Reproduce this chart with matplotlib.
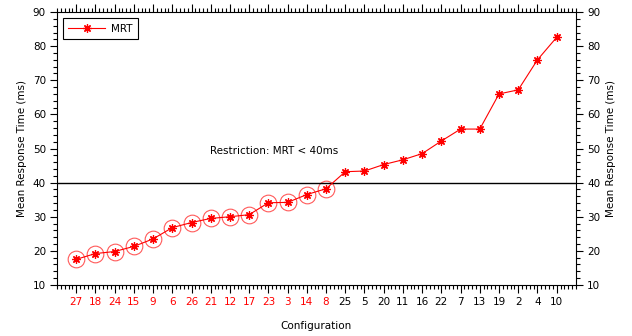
import matplotlib
matplotlib.use("Agg")
import matplotlib.pyplot as plt
from matplotlib.ticker import AutoMinorLocator, MultipleLocator

configs = ["27", "18", "24", "15", "9", "6", "26", "21", "12", "17", "23", "3", "14", "8",
           "25", "5", "20", "11", "16", "22", "7", "13", "19", "2", "4", "10"]
mrt = [17.5, 19.2, 19.8, 21.3, 23.5, 26.8, 28.3, 29.5, 30.0, 30.6, 34.1, 34.2, 36.5, 38.2,
       43.2, 43.4, 45.3, 46.7, 48.5, 52.2, 55.7, 55.7, 66.0, 67.2, 76.0, 82.6]
limit = 40
n_feasible = 14

plt.rcParams["font.family"] = "DejaVu Sans"
plt.rcParams["font.size"] = 7.5

fig = plt.figure(figsize=(6.32, 3.36), dpi=100)
ax = fig.add_axes([0.0902, 0.152, 0.821, 0.812])

x = list(range(1, len(configs) + 1))
ax.plot(x, mrt, color="red", lw=0.8, marker=(8, 2, 0), ms=6, mew=0.9, label="MRT", zorder=3)
ax.plot(x[:n_feasible], mrt[:n_feasible], ls="none", marker="o", ms=12, mfc="none",
        mec="#ff5a5a", mew=0.8, zorder=2)
ax.axhline(limit, color="black", lw=1)
ax.text(11.3, 49.2, "Restriction: MRT < 40ms", ha="center", va="center", fontsize=7.5)

ax.set_xlim(0, len(configs) + 1)
ax.set_ylim(10, 90)
ax.set_xticks(x)
ax.set_xticklabels(configs)
for i, lab in enumerate(ax.get_xticklabels()):
    lab.set_color("red" if i < n_feasible else "black")
ax.xaxis.set_minor_locator(AutoMinorLocator(5))
ax.yaxis.set_major_locator(MultipleLocator(10))
ax.yaxis.set_minor_locator(AutoMinorLocator(5))
ax.tick_params(which="both", direction="out", top=True, right=True, labelright=True,
               width=0.8)
ax.tick_params(which="major", length=5, pad=3)
ax.tick_params(which="minor", length=3)
ax.tick_params(axis="x", which="major", length=6)
for s in ax.spines.values():
    s.set_linewidth(0.8)

ax.set_xlabel("Configuration", labelpad=10)
ax.set_ylabel("Mean Response Time (ms)")
ax2 = ax.secondary_yaxis("right")
ax2.set_yticks([])
ax2.spines["right"].set_visible(False)
ax2.set_ylabel("Mean Response Time (ms)", labelpad=22)

leg = ax.legend(loc="upper left", fancybox=False, edgecolor="black", framealpha=1,
                borderpad=0.5, handlelength=3.5, handletextpad=0.6,
                borderaxespad=0.6)
leg.get_frame().set_linewidth(0.8)

fig.savefig("out.png", dpi=100)
